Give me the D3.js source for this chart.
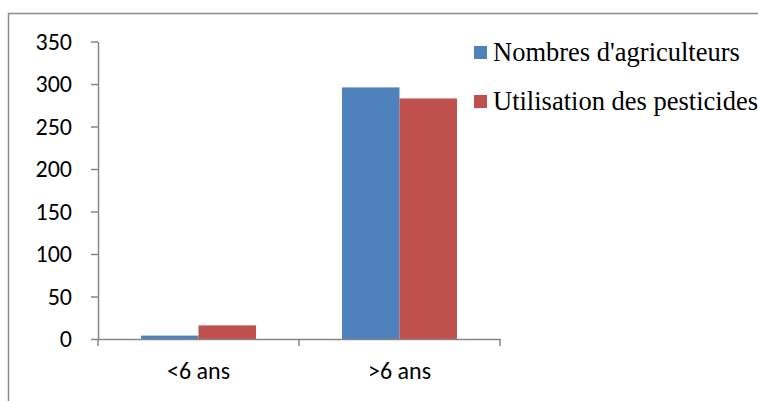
<!DOCTYPE html>
<html>
<head>
<meta charset="utf-8">
<script src="https://cdn.jsdelivr.net/npm/d3@7"></script>
<style>
  html, body { margin: 0; padding: 0; background: #fff; }
  svg { display: block; }
</style>
</head>
<body>
<script>
// Categories, series and values
const categories = ["<6 ans", ">6 ans"];
const seriesNames = ["Nombres d'agriculteurs", "Utilisation des pesticides"];
const agriculteurs = [4, 296];
const pesticides = [16, 283];
const yTicks = [0, 50, 100, 150, 200, 250, 300, 350];
const colors = ["#4F81BD", "#C0504D"];

const W = 758, H = 401;
const svg = d3.select("body").append("svg").attr("width", W).attr("height", H);

// Chart area frame
svg.append("rect")
  .attr("x", 8.5).attr("y", 13.5)
  .attr("width", 770).attr("height", 420)
  .attr("fill", "none").attr("stroke", "#8a8a8a").attr("stroke-width", 1.5);

const plot = { left: 98, right: 500, top: 41.5, bottom: 339 };

const y = d3.scaleLinear().domain([0, 350]).range([plot.bottom, plot.top]);
const x = d3.scaleBand().domain(categories).range([plot.left, plot.right]).padding(0);
const xInner = d3.scaleBand().domain(seriesNames)
  .range([x.bandwidth() * 0.214, x.bandwidth() * 0.786]).padding(0);

const sansFont = "Carlito, Calibri, Lato, 'Open Sans', sans-serif";
const axisColor = "#868686";

// Bars
const rows = categories.map((c, i) => ({ cat: c, vals: [agriculteurs[i], pesticides[i]] }));
const groups = svg.append("g").selectAll("g").data(rows).join("g")
  .attr("transform", d => `translate(${x(d.cat)},0)`);
groups.selectAll("rect")
  .data(d => d.vals.map((v, j) => ({ name: seriesNames[j], v, j })))
  .join("rect")
  .attr("x", d => xInner(d.name))
  .attr("width", xInner.bandwidth())
  .attr("y", d => y(d.v))
  .attr("height", d => y(0) - y(d.v))
  .attr("fill", d => colors[d.j]);

// Y axis
const yAxis = svg.append("g")
  .attr("transform", `translate(${plot.left},0)`)
  .call(d3.axisLeft(y).tickValues(yTicks).tickSize(7).tickPadding(19).tickSizeOuter(0));
yAxis.select(".domain").attr("stroke", axisColor).attr("stroke-width", 1.5);
yAxis.selectAll(".tick line").attr("stroke", axisColor).attr("stroke-width", 1.5);
yAxis.selectAll(".tick text")
  .attr("fill", "#000").style("font-family", sansFont).style("font-size", "24px");

// X axis
const xAxis = svg.append("g")
  .attr("transform", `translate(0,${plot.bottom})`)
  .call(d3.axisBottom(x).tickSize(0));
xAxis.select(".domain").attr("stroke", axisColor).attr("stroke-width", 1.5);
xAxis.selectAll(".tick text")
  .attr("y", 40).attr("dy", null)
  .attr("fill", "#000").style("font-family", sansFont).style("font-size", "24px");
// Category boundary ticks
const bounds = [plot.left, ...categories.map(c => x(c) + x.bandwidth())];
xAxis.selectAll(".bound").data(bounds).join("line")
  .attr("class", "bound")
  .attr("x1", d => d).attr("x2", d => d)
  .attr("y1", 0).attr("y2", 7)
  .attr("stroke", axisColor).attr("stroke-width", 1.5);

// Legend
const legend = svg.append("g").selectAll("g").data(seriesNames).join("g")
  .attr("transform", (d, i) => `translate(474,${46 + i * 49})`);
legend.append("rect")
  .attr("width", 13).attr("height", 13)
  .attr("fill", (d, i) => colors[i]);
legend.append("text")
  .attr("x", 19).attr("y", 15)
  .style("font-family", "'Liberation Serif', 'Times New Roman', serif")
  .style("font-size", "26.5px")
  .attr("fill", "#000")
  .text(d => d);
</script>
</body>
</html>
